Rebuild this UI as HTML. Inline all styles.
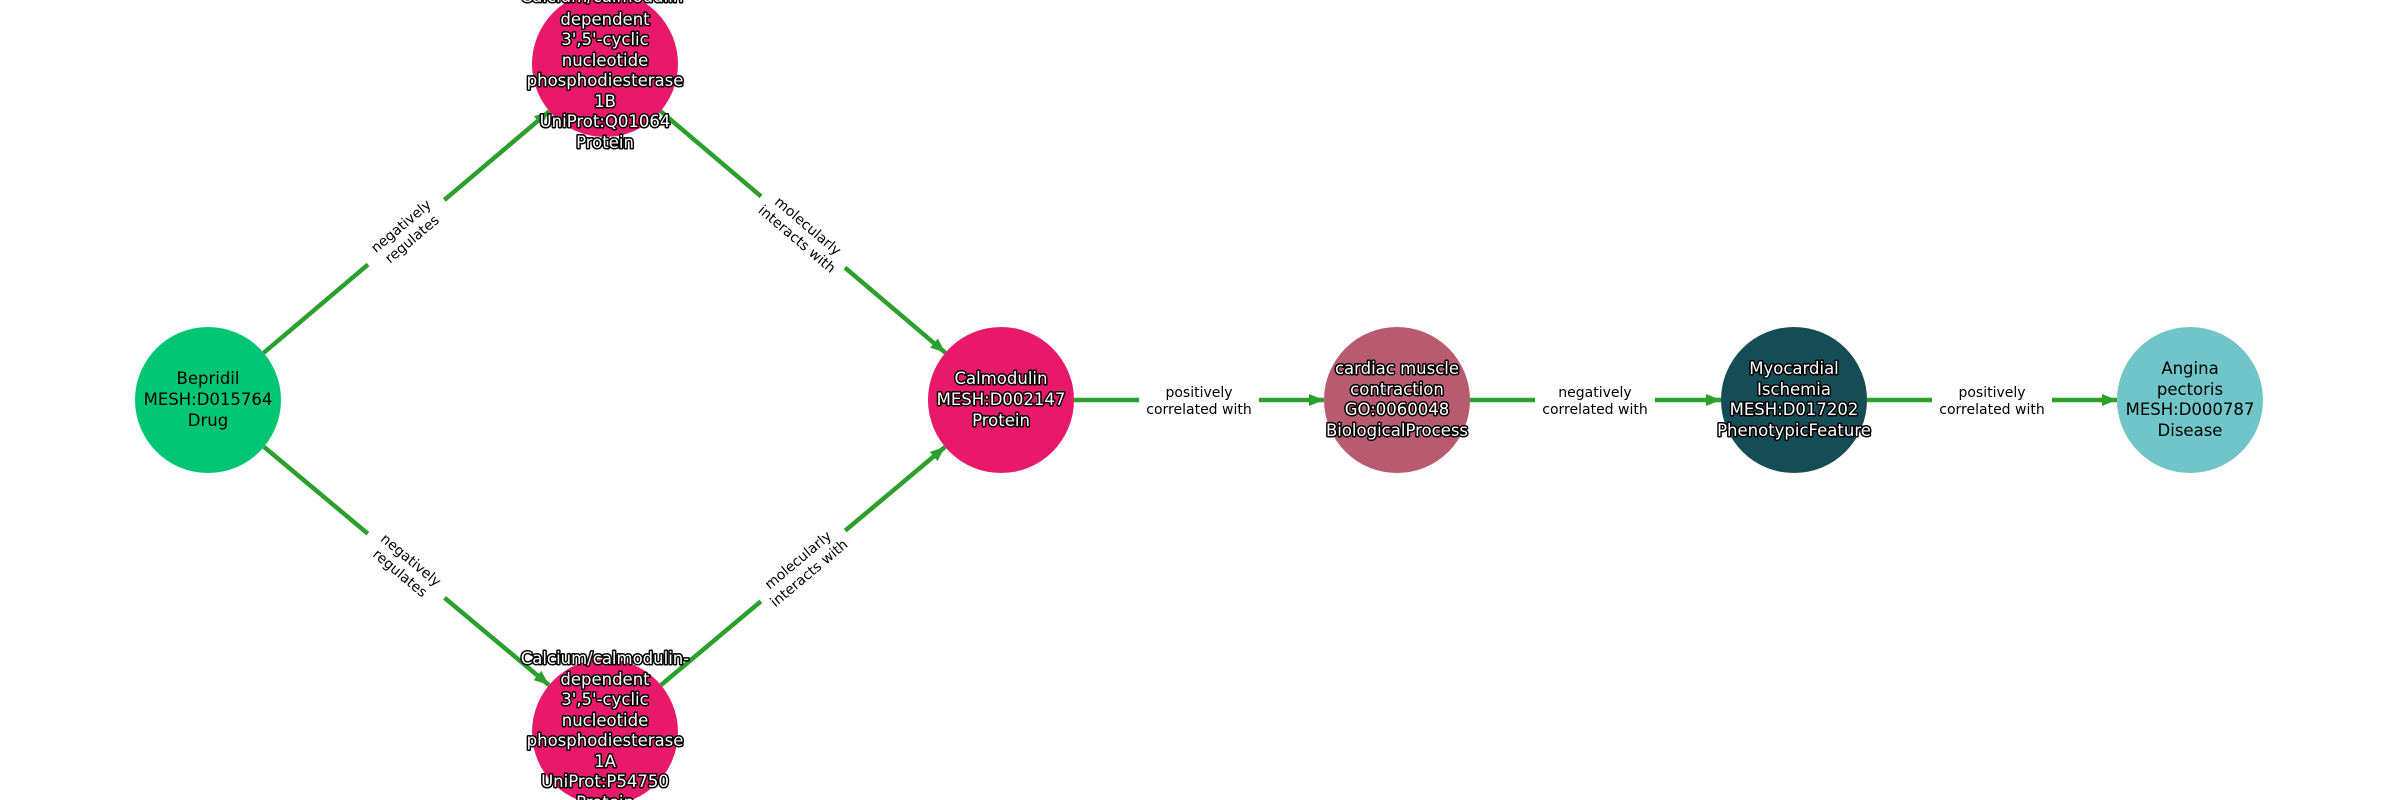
<!DOCTYPE html>
<html><head><meta charset="utf-8"><style>
html,body{margin:0;padding:0;background:#fff;}
svg{display:block;}
.n{font-family:"DejaVu Sans","Liberation Sans",sans-serif;font-size:16.5px;text-anchor:middle;}
.w{fill:#fff;stroke:#000;stroke-width:3px;paint-order:stroke;stroke-linejoin:round;}
.b{fill:#000;}
.l{font-family:"DejaVu Sans","Liberation Sans",sans-serif;font-size:14px;text-anchor:middle;fill:#000;}
</style></head><body>
<svg width="2400" height="800" viewBox="0 0 2400 800" xmlns="http://www.w3.org/2000/svg">
<defs>
<marker id="a" markerUnits="userSpaceOnUse" markerWidth="16" markerHeight="12" refX="15" refY="6" orient="auto">
<path d="M0,0 L15,6 L0,12 Z" fill="#2ca02c"/>
</marker>
</defs>
<g stroke="#2ca02c" stroke-width="4.5" fill="none">
<line x1="263.7" y1="352.8" x2="549.3" y2="111.2" marker-end="url(#a)"/>
<line x1="660.6" y1="111.2" x2="945.4" y2="352.8" marker-end="url(#a)"/>
<line x1="264" y1="446.9" x2="549" y2="685.1" marker-end="url(#a)"/>
<line x1="660.9" y1="685.1" x2="945.1" y2="446.9" marker-end="url(#a)"/>
<line x1="1074" y1="400" x2="1324" y2="400" marker-end="url(#a)"/>
<line x1="1470" y1="400" x2="1721" y2="400" marker-end="url(#a)"/>
<line x1="1867" y1="400" x2="2117" y2="400" marker-end="url(#a)"/>
</g>
<g transform="translate(406,232) rotate(-40.2)"><rect x="-50" y="-20" width="100" height="40" fill="#fff"/><text class="l" y="-3">negatively</text><text class="l" y="14">regulates</text></g>
<g transform="translate(803,232) rotate(40.3)"><rect x="-55" y="-20" width="110" height="40" fill="#fff"/><text class="l" y="-3">molecularly</text><text class="l" y="14">interacts with</text></g>
<g transform="translate(406,566) rotate(39.9)"><rect x="-50" y="-20" width="100" height="40" fill="#fff"/><text class="l" y="-3">negatively</text><text class="l" y="14">regulates</text></g>
<g transform="translate(803,566) rotate(-40)"><rect x="-55" y="-20" width="110" height="40" fill="#fff"/><text class="l" y="-3">molecularly</text><text class="l" y="14">interacts with</text></g>
<g transform="translate(1199,400)"><rect x="-60" y="-20" width="120" height="40" fill="#fff"/><text class="l" y="-3">positively</text><text class="l" y="14">correlated with</text></g>
<g transform="translate(1595,400)"><rect x="-60" y="-20" width="120" height="40" fill="#fff"/><text class="l" y="-3">negatively</text><text class="l" y="14">correlated with</text></g>
<g transform="translate(1992,400)"><rect x="-60" y="-20" width="120" height="40" fill="#fff"/><text class="l" y="-3">positively</text><text class="l" y="14">correlated with</text></g>

<circle cx="208" cy="400" r="73" fill="#00c573"/>
<circle cx="605" cy="64" r="73" fill="#e8196a"/>
<circle cx="605" cy="732" r="73" fill="#e8196a"/>
<circle cx="1001" cy="400" r="73" fill="#e8196a"/>
<circle cx="1397" cy="400" r="73" fill="#b85a70"/>
<circle cx="1794" cy="400" r="73" fill="#154d56"/>
<circle cx="2190" cy="400" r="73" fill="#70c5c9"/>

<g class="n b"><text x="208" y="384">Bepridil</text><text x="208" y="405">MESH:D015764</text><text x="208" y="426">Drug</text></g>
<g class="n w">
<text x="605" y="2">Calcium/calmodulin-</text>
<text x="605" y="25">dependent</text>
<text x="605" y="45">3',5'-cyclic</text>
<text x="605" y="66">nucleotide</text>
<text x="605" y="86">phosphodiesterase</text>
<text x="605" y="107">1B</text>
<text x="605" y="127">UniProt:Q01064</text>
<text x="605" y="148">Protein</text>
</g>
<g class="n w">
<text x="605" y="664">Calcium/calmodulin-</text>
<text x="605" y="685">dependent</text>
<text x="605" y="705">3',5'-cyclic</text>
<text x="605" y="726">nucleotide</text>
<text x="605" y="746">phosphodiesterase</text>
<text x="605" y="767">1A</text>
<text x="605" y="787">UniProt:P54750</text>
<text x="605" y="808">Protein</text>
</g>
<g class="n w"><text x="1001" y="384">Calmodulin</text><text x="1001" y="405">MESH:D002147</text><text x="1001" y="426">Protein</text></g>
<g class="n w"><text x="1397" y="374">cardiac muscle</text><text x="1397" y="395">contraction</text><text x="1397" y="415">GO:0060048</text><text x="1397" y="436">BiologicalProcess</text></g>
<g class="n w"><text x="1794" y="374">Myocardial</text><text x="1794" y="395">Ischemia</text><text x="1794" y="415">MESH:D017202</text><text x="1794" y="436">PhenotypicFeature</text></g>
<g class="n b"><text x="2190" y="374">Angina</text><text x="2190" y="395">pectoris</text><text x="2190" y="415">MESH:D000787</text><text x="2190" y="436">Disease</text></g>
</svg>
</body></html>
